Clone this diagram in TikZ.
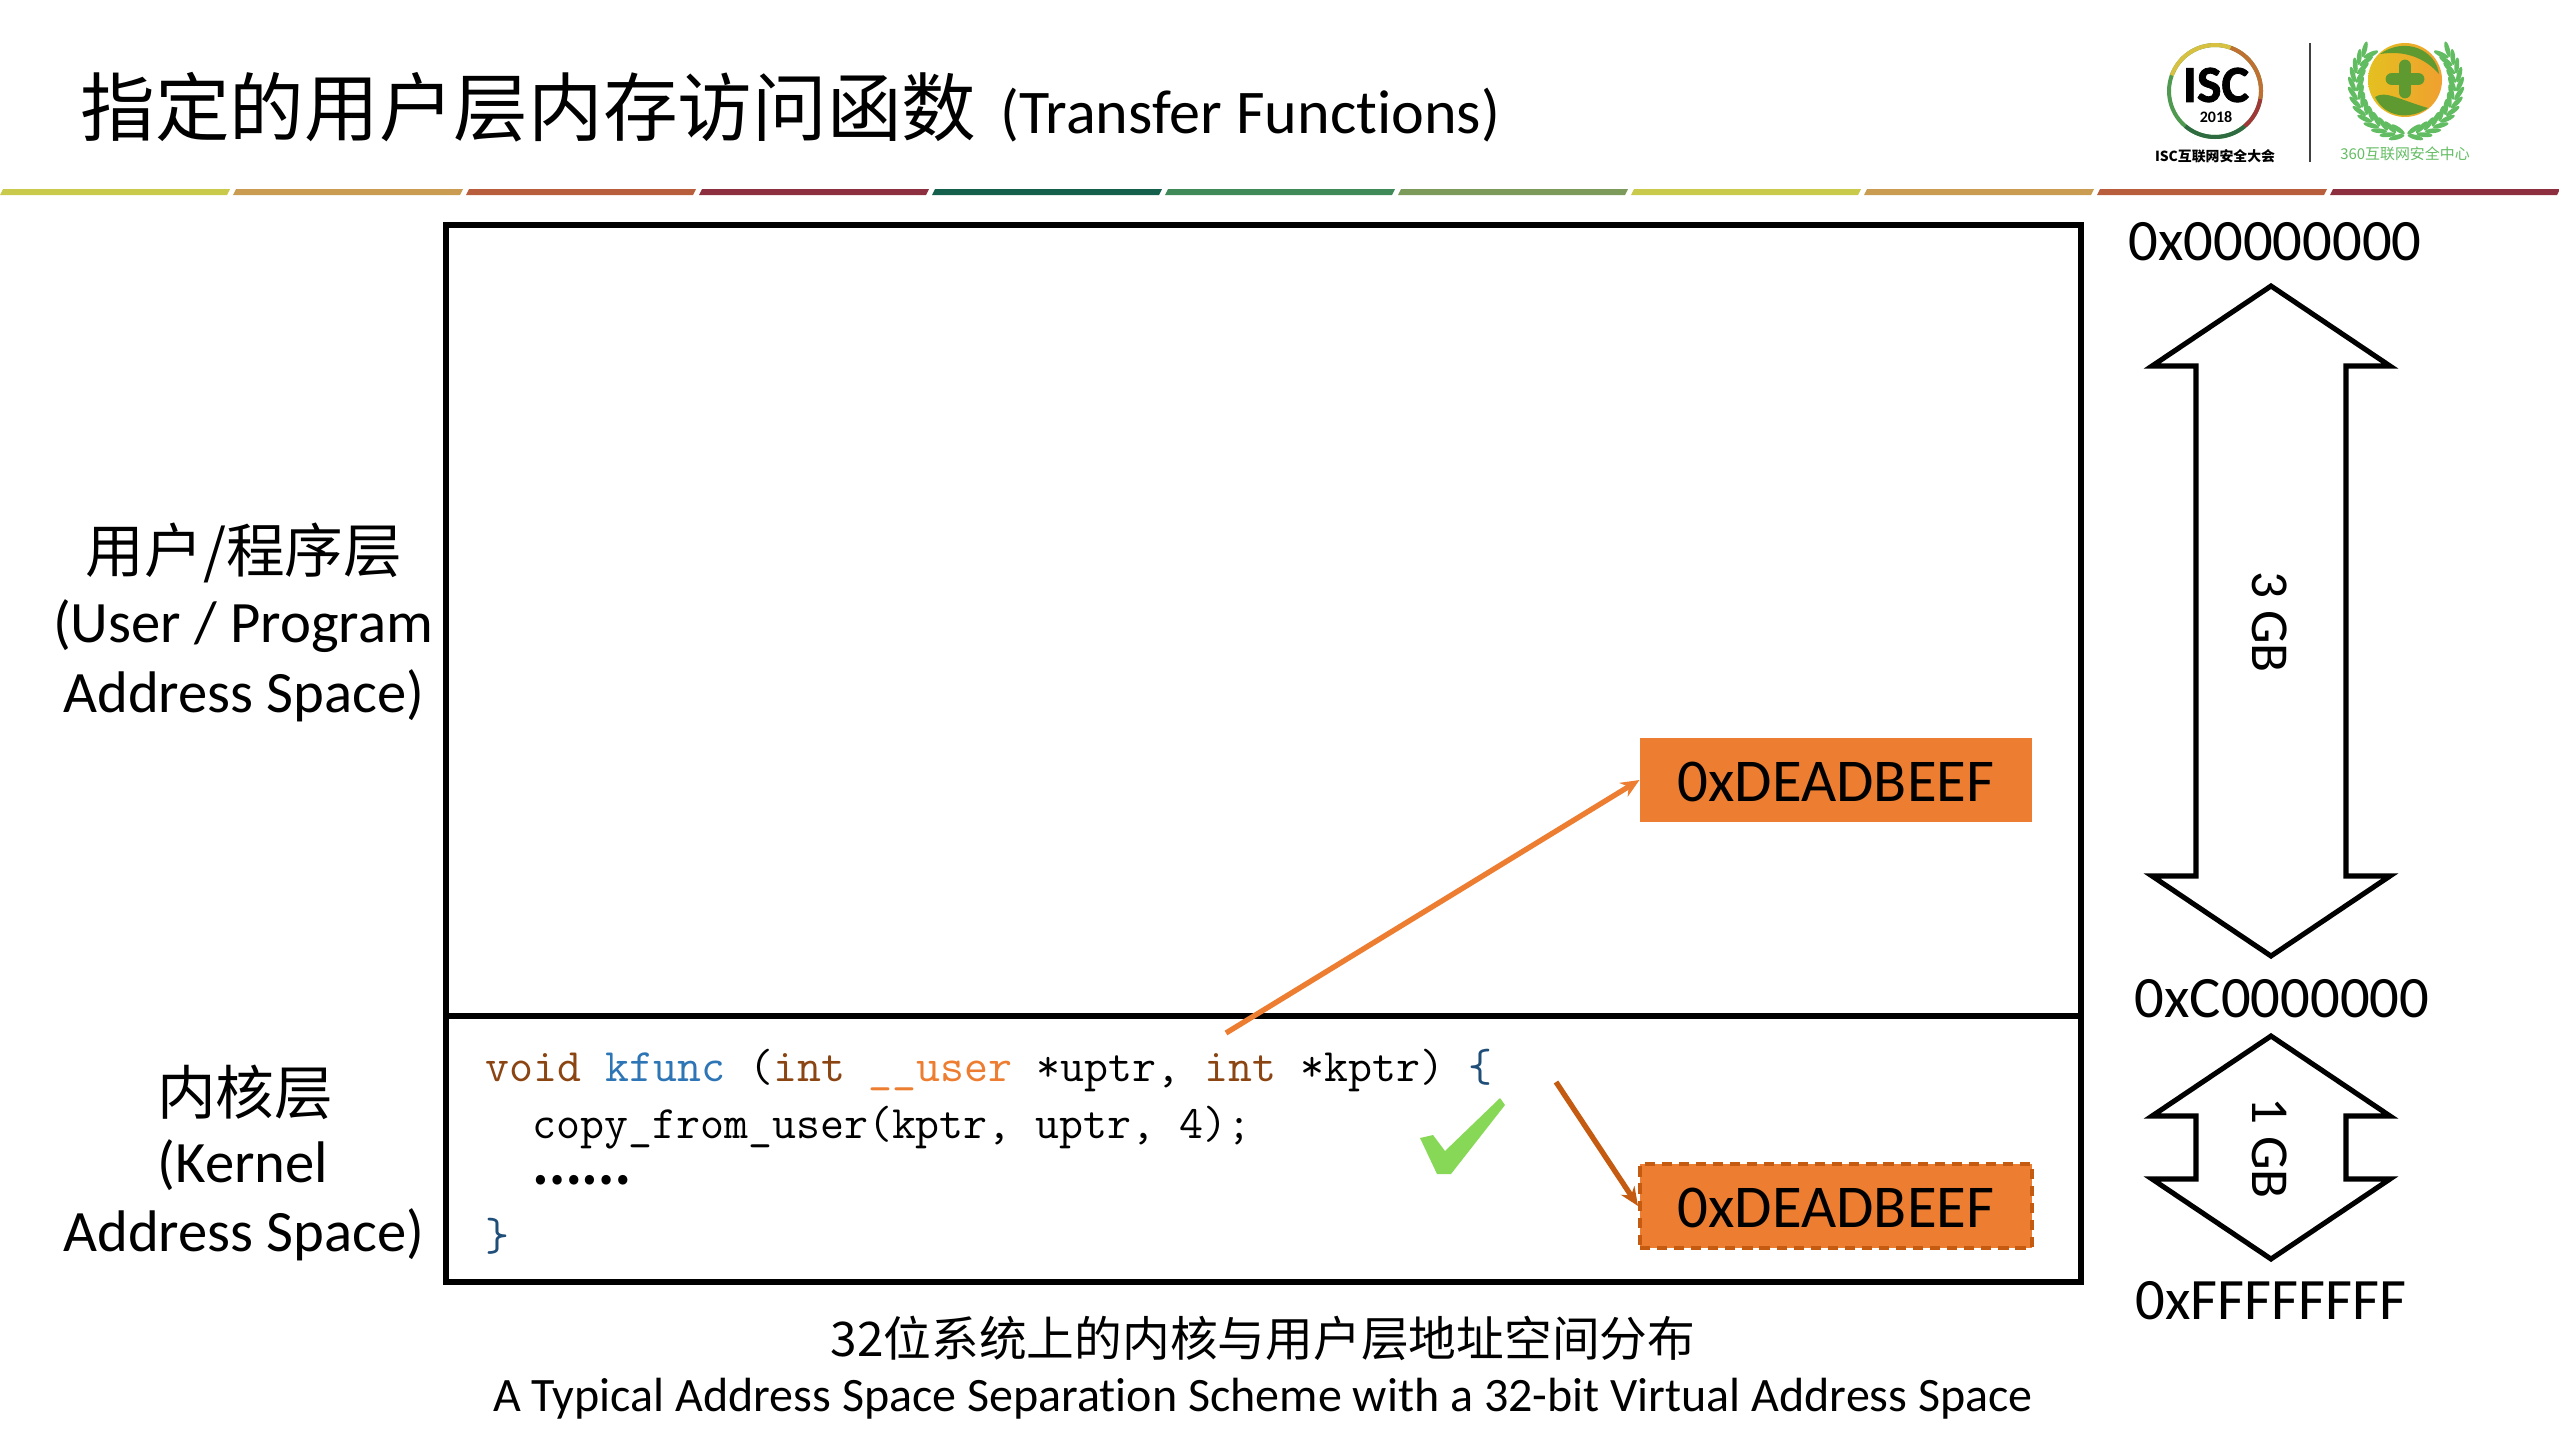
\documentclass[tikz,border=0pt]{standalone}
\usepackage{fontspec}
\usetikzlibrary{arrows.meta}
\setmainfont{Carlito}[Ligatures=NoCommon]
\newfontfamily\cjk{Noto Sans CJK SC}
\newfontfamily\logoheavy{Carlito}[Ligatures=NoCommon, BoldFeatures={FakeBold=1.5}]
\definecolor{boxorange}{HTML}{ED7D31}
\definecolor{darkorange}{HTML}{C55A11}
\definecolor{keybrown}{HTML}{8B4513}
\definecolor{funcblue}{HTML}{2E75B6}
\definecolor{bracenavy}{HTML}{1F4E79}
\definecolor{checkgreen}{HTML}{88D858}
\definecolor{leafgreen}{HTML}{62BC62}
\definecolor{crossgreen}{HTML}{5F9A30}
\definecolor{ballyellow}{HTML}{E4C020}
\definecolor{ballorange}{HTML}{F0A030}
\definecolor{ringgreen}{HTML}{4F9A50}
\definecolor{ringyellow}{HTML}{D8C040}
\definecolor{ringorange}{HTML}{C07030}
\definecolor{ringred}{HTML}{A03838}
\definecolor{ringdark}{HTML}{2F6B40}
\tikzset{
  frameline/.style={line width=2.25pt, draw=black},
  blockarrow/.style={line width=1.9pt, draw=black, fill=white, miter limit=20},
  sidelabel/.style={inner sep=0pt, font=\fontsize{22}{26}\selectfont},
  sidelabelzh/.style={inner sep=0pt, font=\cjk\fontsize{22}{26}\selectfont},
  addrlabel/.style={inner sep=0pt, font=\fontsize{22}{26}\selectfont},
  sizelabel/.style={inner sep=0pt, rotate=-90, font=\fontsize{20}{22}\selectfont},
  valuebox/.style={fill=boxorange, minimum width=147pt, minimum height=31.5pt, inner sep=0pt,
    text height=16pt, text depth=0pt, font=\fontsize{22.8}{26}\selectfont},
  codeline/.style={anchor=base west, inner sep=0pt, font=\ttfamily\fontsize{17.45}{20}\selectfont},
  ptrarrow/.style={line width=2pt, -{Stealth[length=7pt, width=6pt]}}
}
\begin{document}
\begin{tikzpicture}[x=0.375pt, y=-0.375pt]
\useasboundingbox (0,0) rectangle (2559,1439);

% 标题
\node[anchor=west, inner sep=0pt, font=\cjk\fontsize{28}{32}\selectfont] (title) at (80,107) {指定的用户层内存访问函数};
\node[anchor=west, inner sep=0pt, font=\fontsize{23.3}{26}\selectfont] (subtitle) at (1000,115) {(Transfer Functions)};

% 彩色分隔线
\foreach \i/\c in {0/C9C94B, 1/C99C52, 2/B95E3C, 3/8E2F3F, 4/15604C, 5/3F8A58, 6/7C9A5A, 7/C9C94B, 8/C99C52, 9/B95E3C, 10/8E2F3F} {
  \definecolor{segcolor}{HTML}{\c}
  \fill[segcolor] ({\i*233+3},189) -- ({\i*233+230},189) -- ({\i*233+227},195) -- ({\i*233},195) -- cycle;
}

% ISC 标志
\draw[line width=1.5pt, draw=ringgreen] (2215,91) circle (46);
\draw[line width=1.5pt, draw=ringyellow] (2215,91) ++(200:46) arc (200:290:46);
\draw[line width=1.5pt, draw=ringorange] (2215,91) ++(290:46) arc (290:370:46);
\draw[line width=1.5pt, draw=ringred] (2215,91) ++(10:46) arc (10:50:46);
\draw[line width=1.5pt, draw=ringdark] (2215,91) ++(50:46) arc (50:130:46);
\node[inner sep=0pt, font=\logoheavy\bfseries\fontsize{19.5}{20}\selectfont] (iscname) at (2216,85) {ISC};
\node[inner sep=0pt, font=\bfseries\fontsize{6}{7}\selectfont] (iscyear) at (2216,117) {2018};
\node[inner sep=0pt, font=\cjk\bfseries\fontsize{5.2}{6}\selectfont] (isccaption) at (2215,156) {ISC互联网安全大会};

% 中间竖线
\draw[line width=1pt, draw=black!75] (2310,43) -- (2310,162);

% 360 标志
\foreach \ang in {100,110,...,225} {
  \fill[leafgreen, shift={(2406,84)}, shift={(\ang:46)}, rotate=-\ang-115] (0,0) ellipse (8 and 2.4);
  \fill[leafgreen, shift={(2406,84)}, shift={(\ang:54)}, rotate=-\ang-65] (0,0) ellipse (8 and 2.4);
  \fill[leafgreen, shift={(2406,84)}, shift={(180-\ang:46)}, rotate=\ang+115] (0,0) ellipse (8 and 2.4);
  \fill[leafgreen, shift={(2406,84)}, shift={(180-\ang:54)}, rotate=\ang+65] (0,0) ellipse (8 and 2.4);
}
\shade[left color=ballyellow, right color=ballorange] (2405,80) circle (37);
\fill[crossgreen] (2380,54) .. controls (2405,36) and (2436,50) .. (2439,74)
  .. controls (2425,58) and (2405,50) .. (2380,54) -- cycle;
\fill[crossgreen] (2375,97) .. controls (2385,90) and (2400,100) .. (2428,108)
  .. controls (2410,120) and (2385,118) .. (2375,97) -- cycle;
\draw[line width=4.8pt, line cap=round, draw=crossgreen] (2392,79) -- (2418,79);
\draw[line width=4.8pt, line cap=round, draw=crossgreen] (2405,66) -- (2405,92);
\node[inner sep=0pt, text=leafgreen, font=\cjk\fontsize{5.6}{7}\selectfont] (safename) at (2405,154) {360互联网安全中心};

% 地址空间大框
\draw[frameline] (446,225) rectangle (2081,1282);
\draw[frameline] (446,1016) -- (2081,1016);

% 左侧文字
\node[sidelabelzh] (userzh) at (244,553) {用户/程序层};
\node[sidelabel] (useren) at (243,626) {(User / Program};
\node[sidelabel] (useraddr) at (244,696) {Address Space)};
\node[sidelabelzh] (kernelzh) at (245,1092) {内核层};
\node[sidelabel] (kernelen) at (243,1165) {(Kernel};
\node[sidelabel] (kerneladdr) at (244,1235) {Address Space)};

% 两个数据框
\node[valuebox] (bufuser) at (1836,780) {0xDEADBEEF};
\node[valuebox, draw=darkorange, line width=1.5pt, dash pattern=on 3.8pt off 2.6pt] (bufkernel) at (1836,1206) {0xDEADBEEF};

% 代码
\node[codeline] (codea) at (485,1081) {\textcolor{keybrown}{void} \textcolor{funcblue}{kfunc} (\textcolor{keybrown}{int} \textcolor{boxorange}{\_\_user} *uptr, \textcolor{keybrown}{int} *kptr) \textcolor{bracenavy}{\{}};
\node[codeline] (codeb) at (532,1138) {copy\_from\_user(kptr, uptr, 4);};
\node[codeline, font=\cjk\bfseries\fontsize{16.5}{20}\selectfont] (codec) at (532,1184) {……};
\node[codeline] (coded) at (485,1250) {\textcolor{bracenavy}{\}}};

% 对勾
\fill[checkgreen] (1500,1098) -- (1505,1105) -- (1451,1174) -- (1437,1174) -- (1420,1138)
  -- (1433,1135) -- (1445,1151) -- cycle;

% 箭头
\coordinate (userstart) at (1226,1033);
\coordinate (kernelstart) at (1556,1082);
\draw[ptrarrow, draw=boxorange, fill=boxorange] (userstart) -- (bufuser.west);
\draw[ptrarrow, draw=darkorange, fill=darkorange] (kernelstart) -- (bufkernel.west);

% 右侧双向箭头
\draw[blockarrow] (2271,286) -- (2390,366) -- (2346,366) -- (2346,876) -- (2390,876) -- (2271,956)
  -- (2152,876) -- (2196,876) -- (2196,366) -- (2152,366) -- cycle;
\draw[blockarrow] (2271,1036) -- (2390,1116) -- (2346,1116) -- (2346,1179) -- (2390,1179) -- (2271,1259)
  -- (2152,1179) -- (2196,1179) -- (2196,1116) -- (2152,1116) -- cycle;
\node[sizelabel] (sizeuser) at (2270,622) {3 GB};
\node[sizelabel] (sizekernel) at (2270,1148) {1 GB};

% 地址标注
\node[addrlabel] (addrtop) at (2275,242) {0x00000000};
\node[addrlabel] (addrmid) at (2282,999) {0xC0000000};
\node[addrlabel] (addrend) at (2271,1301) {0xFFFFFFFF};

% 底部说明
\node[inner sep=0pt, font=\cjk\fontsize{17.9}{22}\selectfont] (captionzh) at (1263,1338) {32位系统上的内核与用户层地址空间分布};
\node[inner sep=0pt, font=\fontsize{18}{22}\selectfont] (captionen) at (1263,1399) {A Typical Address Space Separation Scheme with a 32-bit Virtual Address Space};

\end{tikzpicture}
\end{document}
